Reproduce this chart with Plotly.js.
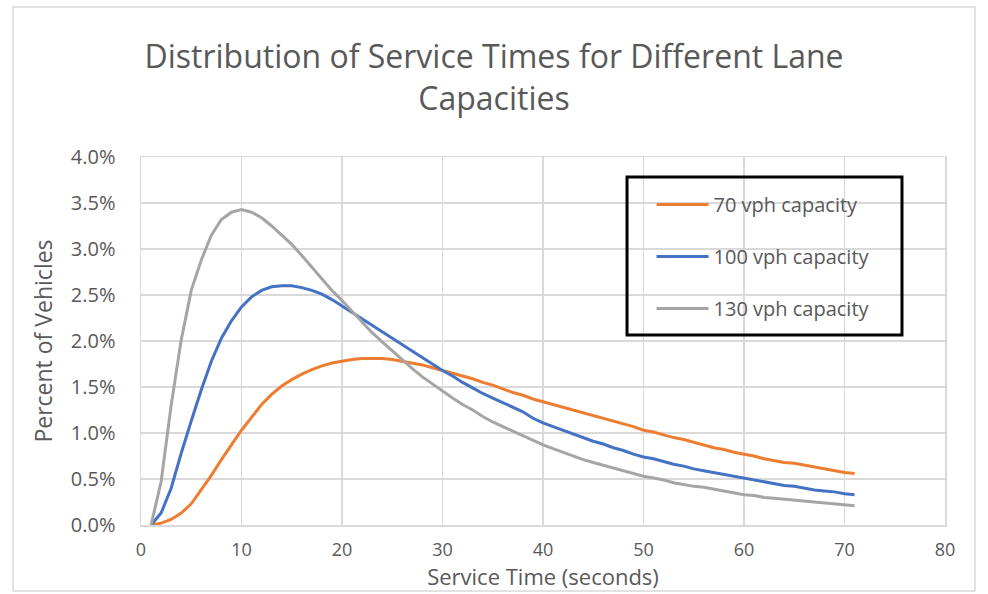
<!DOCTYPE html>
<html>
<head>
<meta charset="utf-8">
<script src="https://cdn.plot.ly/plotly-3.0.1.min.js"></script>
<style>html,body{margin:0;padding:0;background:#fff;}#chart{width:988px;height:594px;}</style>
</head>
<body>
<div id="chart"></div>
<script>
const serviceTime = [1,2,3,4,5,6,7,8,9,10,11,12,13,14,15,16,17,18,19,20,21,22,23,24,25,26,27,28,29,30,31,32,33,34,35,36,37,38,39,40,41,42,43,44,45,46,47,48,49,50,51,52,53,54,55,56,57,58,59,60,61,62,63,64,65,66,67,68,69,70,71];

const cap70 = [0.00,0.02,0.06,0.13,0.23,0.38,0.54,0.71,0.87,1.03,1.17,1.31,1.42,1.51,1.58,1.64,1.69,1.73,1.76,1.78,1.80,1.81,1.81,1.81,1.80,1.78,1.76,1.74,1.71,1.68,1.65,1.62,1.59,1.55,1.52,1.48,1.44,1.41,1.37,1.34,1.31,1.28,1.25,1.22,1.19,1.16,1.13,1.10,1.07,1.03,1.01,0.98,0.95,0.93,0.90,0.87,0.84,0.82,0.79,0.77,0.75,0.72,0.70,0.68,0.67,0.65,0.63,0.61,0.59,0.57,0.56];

const cap100 = [0.00,0.13,0.40,0.78,1.13,1.47,1.78,2.03,2.22,2.37,2.48,2.55,2.59,2.60,2.60,2.58,2.55,2.51,2.45,2.38,2.31,2.24,2.17,2.10,2.03,1.96,1.89,1.82,1.75,1.68,1.62,1.55,1.49,1.43,1.38,1.33,1.28,1.23,1.16,1.11,1.07,1.03,0.99,0.95,0.91,0.88,0.84,0.81,0.77,0.74,0.72,0.69,0.66,0.64,0.61,0.59,0.57,0.55,0.53,0.51,0.49,0.47,0.45,0.43,0.42,0.40,0.38,0.37,0.36,0.34,0.33];

const cap130 = [0.00,0.47,1.30,2.01,2.55,2.88,3.15,3.32,3.40,3.43,3.40,3.34,3.25,3.15,3.05,2.93,2.80,2.67,2.55,2.44,2.32,2.20,2.09,1.99,1.89,1.80,1.70,1.61,1.53,1.45,1.38,1.31,1.25,1.18,1.12,1.07,1.02,0.97,0.92,0.87,0.83,0.79,0.75,0.71,0.68,0.65,0.62,0.59,0.56,0.53,0.51,0.49,0.46,0.44,0.42,0.41,0.39,0.37,0.35,0.33,0.32,0.30,0.29,0.28,0.27,0.26,0.25,0.24,0.23,0.22,0.21];

const seriesNames = ["70 vph capacity","100 vph capacity","130 vph capacity"];
const seriesColors = ["#ED7D31","#4472C4","#A5A5A5"];
const seriesValues = [cap70, cap100, cap130];

const FONT = "'Open Sans', 'Noto Sans', sans-serif";
const TXT = "#595959";

const traces = seriesValues.map((v, i) => ({
  x: serviceTime, y: v, type: "scatter", mode: "lines",
  name: seriesNames[i], legendgroup: "g" + i,
  line: {color: seriesColors[i], width: 3, shape: "linear"},
  hoverinfo: "skip"
}));

const layout = {
  width: 988, height: 594,
  margin: {l: 141, r: 43, t: 157, b: 69, pad: 0},
  paper_bgcolor: "#fff", plot_bgcolor: "#fff",
  font: {family: FONT, color: TXT},
  title: {
    text: "Distribution of Service Times for Different Lane<br>Capacities",
    font: {family: FONT, size: 32, color: TXT},
    x: 0.5, xref: "container", xanchor: "center",
    y: 0.885, yref: "container", yanchor: "middle"
  },
  xaxis: {
    range: [0, 80], dtick: 10, tick0: 0,
    showgrid: true, gridcolor: "#d9d9d9", gridwidth: 1.5,
    zeroline: false, showline: true, linecolor: "#d9d9d9", linewidth: 1.5, mirror: true,
    ticks: "", ticklabelstandoff: 8,
    tickfont: {family: FONT, size: 18, color: TXT},
    title: {text: "Service Time (seconds)", font: {family: FONT, size: 22, color: TXT}, standoff: 6},
    fixedrange: true
  },
  yaxis: {
    range: [0, 4.0], dtick: 0.5, tick0: 0,
    tickformat: ".1f", ticksuffix: "%",
    showgrid: true, gridcolor: "#d9d9d9", gridwidth: 1.5,
    zeroline: true, zerolinecolor: "#bfbfbf", zerolinewidth: 2,
    showline: true, linecolor: "#d9d9d9", linewidth: 1.5, mirror: true,
    ticks: "", ticklabelstandoff: 20,
    tickfont: {family: FONT, size: 20, color: TXT},
    title: {text: "Percent of Vehicles", font: {family: FONT, size: 23, color: TXT}, standoff: 12},
    fixedrange: true
  },
  showlegend: true,
  legend: {
    x: 0.635, y: 0.924, xanchor: "left", yanchor: "top",
    bgcolor: "rgba(0,0,0,0)", borderwidth: 0,
    font: {family: FONT, size: 20, color: TXT},
    traceorder: "grouped", tracegroupgap: 23, itemwidth: 52
  },
  shapes: [
    {type: "rect", xref: "paper", yref: "paper",
     x0: 0.6045, x1: 0.9465, y0: 0.5163, y1: 0.9457,
     line: {color: "#000", width: 3}, fillcolor: "rgba(0,0,0,0)", layer: "above"},
    {type: "rect", xref: "paper", yref: "paper",
     x0: (13 - 141) / 804, x1: (975 - 141) / 804,
     y0: (525 - 591) / 368, y1: (525 - 7) / 368,
     line: {color: "#d9d9d9", width: 1.5}, fillcolor: "rgba(0,0,0,0)", layer: "below"}
  ]
};

Plotly.newPlot("chart", traces, layout, {displayModeBar: false, staticPlot: true});
</script>
</body>
</html>
